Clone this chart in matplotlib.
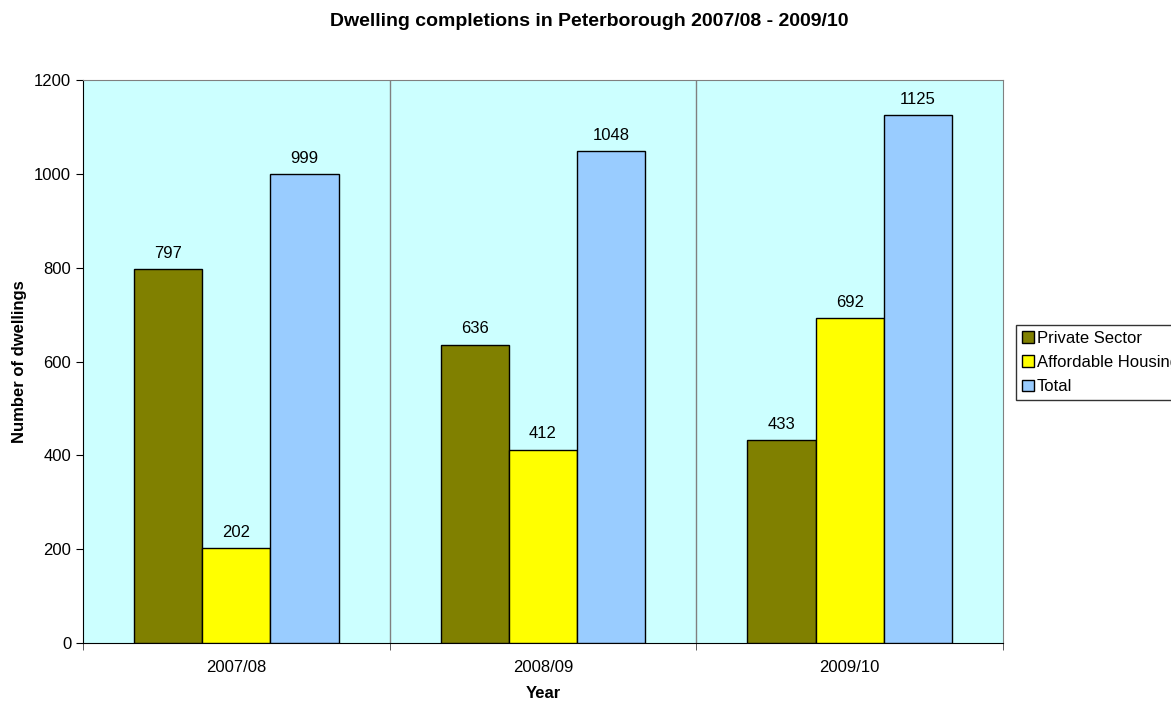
import numpy as np
import matplotlib.pyplot as plt

plt.rcParams['font.family'] = ['Liberation Sans', 'DejaVu Sans']

years = ['2007/08', '2008/09', '2009/10']
private_sector = [797, 636, 433]
affordable_housing = [202, 412, 692]
total = [999, 1048, 1125]

series = [
    ('Private Sector', private_sector, '#808000'),
    ('Affordable Housing', affordable_housing, '#FFFF00'),
    ('Total', total, '#99CCFF'),
]

fig = plt.figure(figsize=(11.71, 7.02), dpi=100)
ax = fig.add_axes([83 / 1171, 59 / 702, 920 / 1171, 563 / 702])
ax.set_facecolor('#CCFFFF')

x = np.arange(len(years))
width = 1 / 4.5
for i, (name, vals, color) in enumerate(series):
    pos = x + (i - 1) * width
    bars = ax.bar(pos, vals, width, color=color, edgecolor='black', linewidth=1.0, label=name, zorder=3)
    for b, v in zip(bars, vals):
        ax.annotate(str(v), (b.get_x() + b.get_width() / 2, v), xytext=(0, 6),
                    textcoords='offset points', ha='center', va='bottom', fontsize=12)

# category separators
for sep in x[:-1] + 0.5:
    ax.axvline(sep, color='#808080', linewidth=1.0, zorder=1)

ax.set_xlim(-0.5, len(years) - 0.5)
ax.set_ylim(0, 1200)
ax.set_yticks(range(0, 1201, 200))
ax.set_xticks(x)
ax.set_xticklabels(years, fontsize=12)
ax.set_xticks(np.arange(len(years) + 1) - 0.5, minor=True)
ax.tick_params(axis='x', which='major', length=0, pad=12)
ax.tick_params(axis='x', which='minor', length=5, color='#404040')
ax.tick_params(axis='y', length=5, labelsize=12)

for side in ['top', 'right']:
    ax.spines[side].set_color('#808080')
for side in ['left', 'bottom']:
    ax.spines[side].set_color('black')

ax.set_xlabel('Year', fontsize=12, fontweight='bold', labelpad=8)
ax.set_ylabel('Number of dwellings', fontsize=12, fontweight='bold', labelpad=5)
fig.text(589 / 1171, 1 - 22 / 702, 'Dwelling completions in Peterborough 2007/08 - 2009/10',
         ha='center', va='center', fontsize=14, fontweight='bold')

# legend runs off the right edge in the original too
leg = fig.legend(loc='upper left', bbox_to_anchor=(1016 / 1171, 1 - 325 / 702), fontsize=12,
                 frameon=True, fancybox=False, edgecolor='black', handlelength=0.7, handleheight=0.7,
                 handletextpad=0.2, borderpad=0.35, labelspacing=0.55, borderaxespad=0)
leg.get_frame().set_linewidth(1.0)

fig.savefig('out.png', dpi=100)
